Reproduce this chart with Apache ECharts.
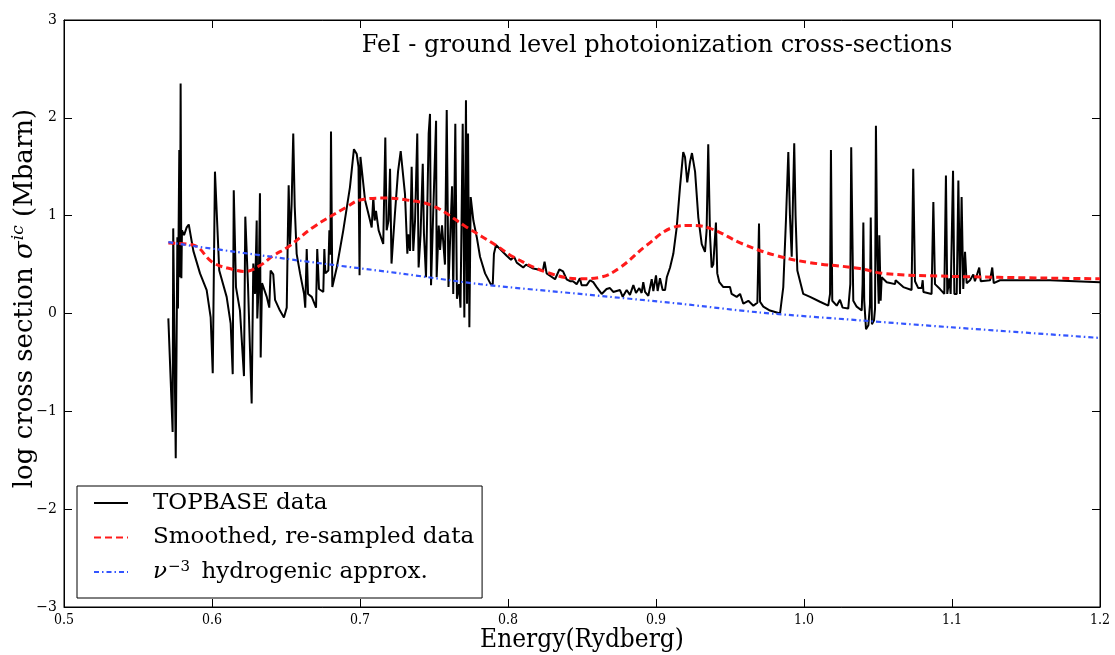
<!DOCTYPE html>
<html>
<head>
<meta charset="utf-8">
<script src="https://cdn.jsdelivr.net/npm/echarts@6/dist/echarts.min.js"></script>
<style>
  html, body { margin: 0; padding: 0; background: #fff; }
  #chart { width: 1115px; height: 655px; }
</style>
</head>
<body>
<div id="chart"></div>
<script>
// Fe I ground level photoionization cross-section (log10 Mbarn) vs photon energy (Ry)
const topbaseEnergy = [
  0.5705,0.5734,0.5738,0.5755,0.5766,0.5770,0.5779,0.5784,0.5788,0.5793,0.5797,0.5811,0.5829,0.5843,0.5874,
  0.5919,0.5964,0.5991,0.6005,0.6020,0.6049,0.6099,0.6126,0.6140,0.6147,0.6162,0.6189,0.6216,0.6225,0.6243,
  0.6268,0.6279,0.6291,0.6302,0.6306,0.6316,0.6324,0.6329,0.6338,0.6370,0.6387,0.6396,0.6414,0.6426,0.6459,
  0.6486,0.6505,0.6511,0.6518,0.6527,0.6538,0.6549,0.6559,0.6572,0.6595,0.6622,0.6630,0.6640,0.6649,0.6674,
  0.6703,0.6711,0.6723,0.6752,0.6759,0.6766,0.6786,0.6793,0.6800,0.6804,0.6813,0.6843,0.6887,0.6932,0.6959,
  0.6978,0.6990,0.6997,0.7003,0.7034,0.7068,0.7079,0.7090,0.7099,0.7108,0.7126,0.7157,0.7171,0.7180,0.7193,
  0.7203,0.7213,0.7225,0.7236,0.7257,0.7275,0.7287,0.7304,0.7320,0.7326,0.7338,0.7349,0.7360,0.7372,0.7387,
  0.7396,0.7409,0.7424,0.7432,0.7446,0.7464,0.7473,0.7480,0.7495,0.7514,0.7518,0.7532,0.7541,0.7554,0.7574,
  0.7586,0.7598,0.7611,0.7622,0.7630,0.7644,0.7655,0.7669,0.7679,0.7694,0.7705,0.7716,0.7723,0.7730,0.7739,
  0.7748,0.7766,0.7789,0.7811,0.7845,0.7883,0.7897,0.7905,0.7919,0.7946,0.7991,0.8020,0.8041,0.8059,0.8103,
  0.8122,0.8171,0.8236,0.8247,0.8261,0.8318,0.8347,0.8372,0.8396,0.8419,0.8439,0.8464,0.8486,0.8497,0.8532,
  0.8554,0.8576,0.8599,0.8633,0.8666,0.8689,0.8711,0.8757,0.8775,0.8802,0.8824,0.8847,0.8865,0.8887,0.8903,
  0.8914,0.8926,0.8948,0.8971,0.8982,0.9000,0.9011,0.9027,0.9045,0.9061,0.9073,0.9095,0.9117,0.9140,0.9162,
  0.9184,0.9196,0.9211,0.9230,0.9243,0.9264,0.9286,0.9309,0.9331,0.9342,0.9353,0.9365,0.9376,0.9387,0.9405,
  0.9414,0.9428,0.9455,0.9500,0.9511,0.9545,0.9568,0.9590,0.9624,0.9658,0.9685,0.9696,0.9703,0.9725,0.9770,
  0.9816,0.9838,0.9860,0.9878,0.9894,0.9905,0.9917,0.9926,0.9934,0.9943,0.9955,0.9995,1.0041,1.0108,1.0164,
  1.0176,1.0182,1.0191,1.0221,1.0243,1.0261,1.0299,1.0313,1.0319,1.0333,1.0356,1.0390,1.0396,1.0401,1.0407,
  1.0419,1.0435,1.0446,1.0451,1.0459,1.0473,1.0480,1.0486,1.0495,1.0505,1.0509,1.0518,1.0525,1.0559,1.0615,
  1.0619,1.0671,1.0727,1.0738,1.0750,1.0772,1.0795,1.0802,1.0807,1.0862,1.0874,1.0885,1.0919,1.0948,1.0959,
  1.0968,1.0982,1.0991,1.1007,1.1016,1.1032,1.1043,1.1054,1.1065,1.1076,1.1088,1.1099,1.1122,1.1144,1.1155,
  1.1184,1.1194,1.1257,1.1272,1.1282,1.1324,1.1437,1.1662,1.2000
];
const topbaseLogSigma = [
  -0.05,-1.21,0.87,-1.48,0.78,0.05,1.67,0.37,2.35,0.36,0.85,0.80,0.88,0.91,0.64,
  0.41,0.24,-0.04,-0.61,1.45,0.44,0.17,-0.10,-0.62,1.26,0.27,0.03,-0.64,0.99,0.30,
  -0.92,0.51,0.20,0.95,-0.05,0.30,1.23,-0.45,0.31,0.17,0.06,0.44,0.40,0.14,0.03,
  -0.04,0.06,0.68,1.31,0.71,1.12,1.84,1.09,0.61,0.41,0.20,0.06,0.66,0.20,0.17,
  0.06,0.66,0.25,0.22,0.66,0.41,0.44,0.85,0.60,1.86,0.27,0.47,0.85,1.29,1.68,
  1.63,1.50,0.39,1.60,1.16,0.95,0.88,1.19,0.95,1.05,0.85,0.71,1.80,0.85,0.95,
  1.48,0.51,0.78,1.02,1.45,1.66,1.64,1.22,0.61,0.81,0.64,1.50,0.64,0.95,1.84,
  0.47,0.80,1.53,0.82,0.37,1.84,2.04,0.29,1.05,1.97,0.37,0.90,0.65,0.90,0.50,
  2.08,0.27,0.85,1.30,0.20,1.94,0.15,0.30,0.06,1.94,-0.04,2.18,0.10,1.84,-0.14,
  1.19,0.95,0.78,0.58,0.41,0.30,0.30,0.61,0.70,0.66,0.59,0.55,0.58,0.52,0.47,
  0.50,0.46,0.44,0.53,0.41,0.35,0.45,0.43,0.35,0.33,0.33,0.30,0.36,0.29,0.29,
  0.34,0.32,0.27,0.20,0.25,0.26,0.22,0.24,0.17,0.24,0.19,0.29,0.21,0.26,0.21,
  0.32,0.22,0.18,0.35,0.23,0.39,0.23,0.36,0.24,0.24,0.37,0.47,0.61,0.88,1.29,
  1.65,1.60,1.34,1.55,1.64,1.45,0.98,0.71,0.63,0.85,1.73,0.80,0.47,0.50,0.93,
  0.41,0.32,0.27,0.27,0.20,0.17,0.20,0.10,0.13,0.08,0.11,0.92,0.12,0.07,0.03,
  0.01,0.00,0.27,0.95,1.65,1.00,0.58,1.20,1.74,1.00,0.44,0.20,0.17,0.12,0.08,
  0.20,1.67,0.13,0.08,0.14,0.06,0.05,0.30,1.70,0.13,0.07,0.03,0.30,0.93,0.13,
  -0.16,-0.12,0.10,0.98,-0.11,-0.07,0.05,1.92,0.60,0.10,0.80,0.13,0.37,0.32,0.30,
  0.34,0.27,0.24,1.48,0.33,0.26,0.26,0.34,0.22,0.20,1.14,0.30,0.25,0.20,1.41,
  0.20,0.36,0.20,1.46,0.20,0.20,1.36,0.20,1.19,0.25,0.63,0.31,0.34,0.40,0.33,
  0.47,0.33,0.34,0.47,0.31,0.34,0.34,0.34,0.32
];

// Smoothed and re-sampled cross-section
const smoothEnergy = [
  0.5705,0.5872,0.6007,0.6142,0.6223,0.6324,0.6412,0.6514,0.6682,0.6912,0.7000,0.7182,0.7318,0.7493,0.7723,
  0.7926,0.8034,0.8264,0.8486,0.8622,0.8757,0.8939,0.9115,0.9230,0.9365,0.9588,0.9818,1.0041,1.0378,1.0534,
  1.0986,1.2000
];
const smoothLogSigma = [
  0.72,0.70,0.52,0.45,0.43,0.49,0.59,0.68,0.88,1.09,1.16,1.18,1.16,1.10,0.88,
  0.69,0.58,0.42,0.355,0.37,0.47,0.70,0.88,0.90,0.87,0.71,0.59,0.52,0.46,0.41,
  0.38,0.355
];

// Hydrogenic nu^-3 approximation
const hydroEnergy = [0.5705,0.5872,0.6257,0.6595,0.7270,0.7811,0.8486,0.9162,0.9703,1.0378,1.0986,1.2000];
const hydroLogSigma = [0.73,0.69,0.61,0.54,0.41,0.30,0.20,0.10,0.01,-0.07,-0.14,-0.25];

const seriesNames = ['TOPBASE data', 'Smoothed, re-sampled data', 'nu-3 hydrogenic approx.'];
const titleText = 'FeI - ground level photoionization cross-sections';

const zip = (xs, ys) => xs.map((x, i) => [x, ys[i]]);
const SERIF = "'DejaVu Serif', serif";
const SERIF_C = "'DejaVu Serif Condensed', 'DejaVu Serif', serif";
const minus = s => String(s).replace('-', '\u2212');

const chart = echarts.init(document.getElementById('chart'), null, { renderer: 'canvas' });

const tickStyle = { show: true, inside: true, length: 8, lineStyle: { color: '#000', width: 1 } };
const lineAxis = { show: true, onZero: false, lineStyle: { color: '#000', width: 1 } };

chart.setOption({
  animation: false,
  backgroundColor: '#fff',
  grid: {
    left: 64, right: 15, top: 20, bottom: 48,
    outerBoundsMode: 'none', containLabel: false,
    show: true, borderColor: '#000', borderWidth: 1, backgroundColor: 'transparent'
  },
  title: {
    text: titleText,
    left: 652, top: 29, textAlign: 'center',
    textStyle: { fontFamily: SERIF, fontSize: 24, fontWeight: 'normal', color: '#000' }
  },
  legend: {
    orient: 'vertical',
    left: 77, top: 486,
    backgroundColor: '#fff',
    borderColor: '#000', borderWidth: 1,
    padding: [5, 8, 14, 16],
    itemWidth: 34, itemHeight: 14, itemGap: 10.5,
    itemStyle: { opacity: 0 },
    data: seriesNames,
    formatter: name => name === seriesNames[2]
      ? '{i|\u03bd}{sup|\u22123}{t| hydrogenic approx.}'
      : name,
    textStyle: {
      fontFamily: SERIF, fontSize: 23, lineHeight: 24, color: '#000', padding: [0, 0, 0, 20],
      rich: {
        i: { fontFamily: SERIF, fontStyle: 'italic', fontSize: 23, color: '#000' },
        sup: { fontFamily: SERIF, fontSize: 15, color: '#000', verticalAlign: 'top', padding: [0, 4, 10, 1] },
        t: { fontFamily: SERIF, fontSize: 23, color: '#000' }
      }
    }
  },
  xAxis: [
    {
      type: 'value', position: 'bottom', min: 0.5, max: 1.2, interval: 0.1,
      axisLine: lineAxis, axisTick: tickStyle, splitLine: { show: false },
      axisLabel: { margin: 6, fontFamily: SERIF_C, fontSize: 14, color: '#000', formatter: v => v.toFixed(1) },
      name: 'Energy(Rydberg)', nameLocation: 'middle', nameGap: 20, nameMoveOverlap: false,
      nameTextStyle: { fontFamily: SERIF_C, fontSize: 26, color: '#000' }
    },
    {
      type: 'value', position: 'top', min: 0.5, max: 1.2, interval: 0.1,
      axisLine: lineAxis, axisTick: tickStyle, splitLine: { show: false }, axisLabel: { show: false }
    }
  ],
  yAxis: [
    {
      type: 'value', position: 'left', min: -3, max: 3, interval: 1,
      axisLine: lineAxis, axisTick: tickStyle, splitLine: { show: false },
      axisLabel: { margin: 7, fontFamily: SERIF, fontSize: 14, color: '#000', formatter: v => minus(v) },
      name: '{t|log cross section }{s|\u03c3}{sup|ic}{t| (Mbarn)}',
      nameLocation: 'middle', nameGap: 24, nameRotate: 90, nameMoveOverlap: false,
      nameTextStyle: {
        fontFamily: SERIF, fontSize: 26, color: '#000', padding: [0, 0, 0, 30],
        rich: {
          t: { fontFamily: SERIF, fontSize: 26, color: '#000' },
          s: { fontFamily: SERIF, fontStyle: 'italic', fontSize: 26, color: '#000' },
          sup: { fontFamily: SERIF, fontStyle: 'italic', fontSize: 17, color: '#000', verticalAlign: 'top', padding: [0, 0, 13, 1] }
        }
      }
    },
    {
      type: 'value', position: 'right', min: -3, max: 3, interval: 1,
      axisLine: lineAxis, axisTick: tickStyle, splitLine: { show: false }, axisLabel: { show: false }
    }
  ],
  series: [
    {
      name: seriesNames[0], type: 'line', xAxisIndex: 0, yAxisIndex: 0,
      data: zip(topbaseEnergy, topbaseLogSigma),
      symbol: 'none', showSymbol: false, z: 2,
      lineStyle: { color: '#000', width: 2 }, itemStyle: { color: '#000' }
    },
    {
      name: seriesNames[1], type: 'line', xAxisIndex: 0, yAxisIndex: 0,
      data: zip(smoothEnergy, smoothLogSigma),
      symbol: 'none', showSymbol: false, smooth: 0.4, z: 3,
      lineStyle: { color: '#ff1a1a', width: 3, type: [7, 4] }, itemStyle: { color: '#ff1a1a' }
    },
    {
      name: seriesNames[2], type: 'line', xAxisIndex: 0, yAxisIndex: 0,
      data: zip(hydroEnergy, hydroLogSigma),
      symbol: 'none', showSymbol: false, smooth: 0.3, z: 3,
      lineStyle: { color: '#3355ff', width: 2.2, type: [5, 3, 1.5, 3] }, itemStyle: { color: '#3355ff' }
    }
  ]
});
</script>
</body>
</html>
